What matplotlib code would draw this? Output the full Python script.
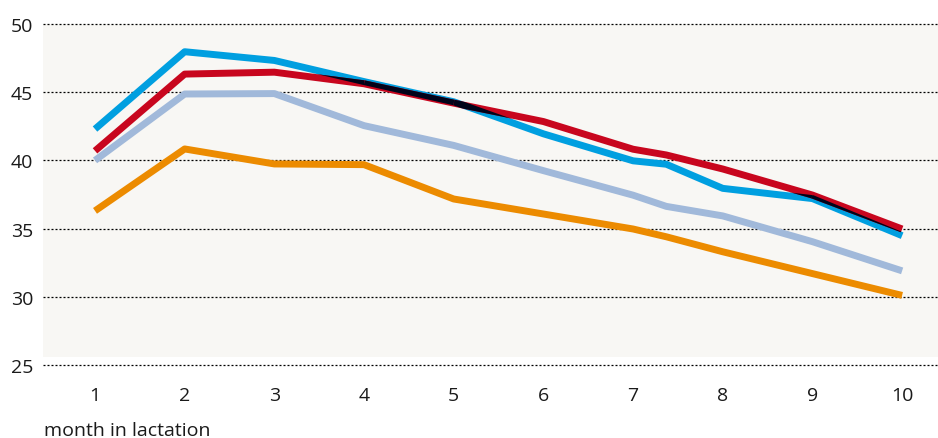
import matplotlib
matplotlib.use("Agg")
import matplotlib.pyplot as plt
import numpy as np
from matplotlib.colors import to_rgb
from matplotlib.patches import Polygon
from matplotlib.transforms import IdentityTransform

# months (one extra reading between month 7 and 8)
months = [1, 2, 3, 4, 5, 6, 7, 7.37, 8, 9, 10]

red_vals = [40.7, 46.33, 46.47, 45.62, 44.2, 42.85, 40.82, 40.4, 39.37, 37.46, 34.97]
cyan_vals = [42.3, 47.97, 47.33, 45.78, 44.3, 41.95, 39.97, 39.72, 37.95, 37.2, 34.48]
pale_vals = [40.0, 44.87, 44.9, 42.55, 41.1, 39.25, 37.45, 36.63, 35.93, 34.04, 31.9]
orange_vals = [36.3, 40.84, 39.74, 39.69, 37.17, 36.07, 34.97, 34.4, 33.3, 31.7, 30.1]

yticks = [25, 30, 35, 40, 45, 50]
xticks = [1, 2, 3, 4, 5, 6, 7, 8, 9, 10]

RED = '#c8061e'
CYAN = '#009fe0'
PALE = '#a1b9da'
ORANGE = '#ec8b00'

plt.rcParams['font.family'] = ['Open Sans', 'DejaVu Sans']

fig = plt.figure(figsize=(9.38, 4.39), dpi=100)
ax = fig.add_axes([43 / 938, 1 - 368 / 439, 1 - 43 / 938, (368 - 23) / 439])
ax.set_xlim(0.42, 10.4)
ax.set_ylim(24.85, 50.15)

ax.axhspan(25.6, 50, color='#f8f7f4', lw=0, zorder=0)

lw = 5.0
ax.plot(months, orange_vals, color=ORANGE, lw=lw, solid_capstyle='butt', zorder=2)
ax.plot(months, pale_vals, color=PALE, lw=lw, solid_capstyle='butt', zorder=2)
ax.plot(months, cyan_vals, color=CYAN, lw=lw, solid_capstyle='butt', zorder=4)
ax.plot(months, red_vals, color=RED, lw=lw, solid_capstyle='butt', zorder=5)

# the original multiplies overlapping lines -> red over cyan turns almost black
dark = tuple(a * b for a, b in zip(to_rgb(RED), to_rgb(CYAN)))
half = lw * fig.dpi / 72 / 2
pts = ax.transData.transform(np.column_stack([months, red_vals]))
for p0, p1 in zip(pts[:-1], pts[1:]):
    d = p1 - p0
    n = np.array([-d[1], d[0]]) / np.hypot(d[0], d[1]) * half
    quad = Polygon([p0 + n, p1 + n, p1 - n, p0 - n], closed=True,
                   transform=IdentityTransform())
    ln, = ax.plot(months, cyan_vals, color=dark, lw=lw, solid_capstyle='butt', zorder=6)
    ln.set_clip_path(quad)

ax.set_yticks(yticks)
ax.set_xticks(xticks)
ax.yaxis.grid(True, color='black', lw=0.9, linestyle=(0, (1.6, 1.6)))
ax.set_axisbelow(True)
for s in ax.spines.values():
    s.set_visible(False)
ax.tick_params(axis='both', length=0, labelsize=14, colors='#1a1a1a')
ax.tick_params(axis='x', pad=14)
ax.tick_params(axis='y', pad=7)

fig.text(44 / 938, 1 - 431 / 439, 'month in lactation', fontsize=14,
         ha='left', va='center', color='#1a1a1a')

fig.savefig('out.png', dpi=100)
